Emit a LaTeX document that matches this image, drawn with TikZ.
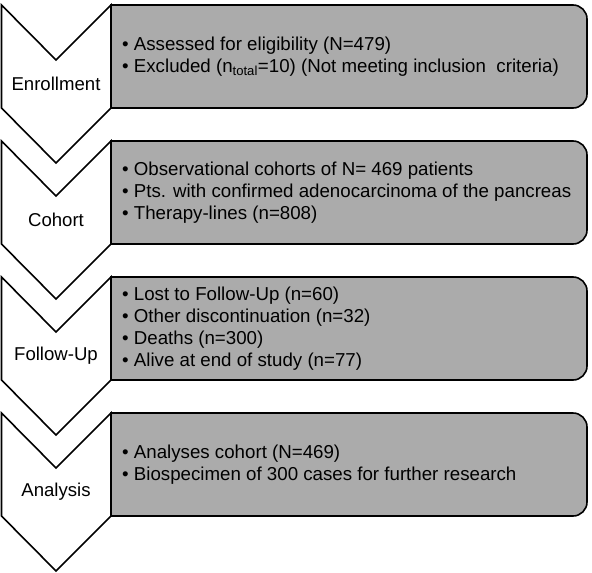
\documentclass[tikz,border=0pt]{standalone}
\usepackage{fontspec}
\setmainfont{Liberation Sans}
\definecolor{boxgray}{RGB}{171,171,171}
\begin{document}
\begin{tikzpicture}[x=1pt,y=-1pt,
  chev/.style={draw=black, line width=1.6pt, fill=white, line join=miter},
  panel/.style={draw=black, line width=1.6pt, fill=boxgray},
  steplabel/.style={font=\fontsize{18.6}{22}\selectfont, inner sep=0pt},
  body/.style={font=\fontsize{18.7}{22}\selectfont, align=left, inner sep=0pt, anchor=west}]
\useasboundingbox (0,0) rectangle (592,573);
\foreach \t in {5,141,277,413}{
  \draw[chev] (1.5,\t) -- (56,\t+55) -- (111,\t) -- (111,\t+103) -- (56,\t+158) -- (1.5,\t+103) -- cycle;
  \draw[panel] (111,\t) -- (573,\t) arc[start angle=-90,end angle=0,radius=14] -- (587,\t+89) arc[start angle=0,end angle=90,radius=14] -- (111,\t+103) -- cycle;
}
\node[steplabel] (l1) at (56,84) {Enrollment};
\node[steplabel] (l2) at (56,220) {Cohort};
\node[steplabel] (l3) at (56,356) {Follow-Up};
\node[steplabel] (l4) at (56,492) {Analysis};
\node[body] (b1) at (122,56.5) {• Assessed for eligibility (N=479)\\• Excluded (n\textsubscript{total}=10) (Not meeting inclusion\ \ criteria)};
\node[body] (b2) at (122,192.5) {• Observational cohorts of N= 469 patients\\• Pts. with confirmed adenocarcinoma of the pancreas\\• Therapy-lines (n=808)};
\node[body] (b3) at (122,328.5) {• Lost to Follow-Up (n=60)\\• Other discontinuation (n=32)\\• Deaths (n=300)\\• Alive at end of study (n=77)};
\node[body] (b4) at (122,464.5) {• Analyses cohort (N=469)\\• Biospecimen of 300 cases for further research};
\end{tikzpicture}
\end{document}
